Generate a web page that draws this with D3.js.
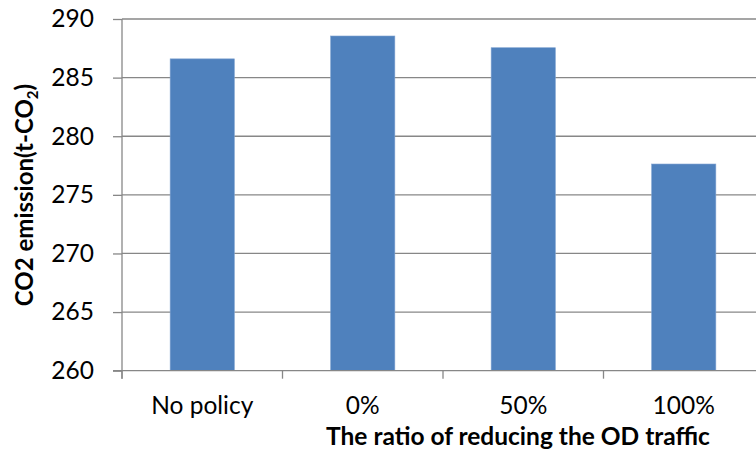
<!DOCTYPE html>
<html><head><meta charset="utf-8">
<script src="https://cdn.jsdelivr.net/npm/d3@7"></script>
<style>body{margin:0;background:#fff}svg{display:block}</style>
</head><body>
<script>
const categories = ["No policy", "0%", "50%", "100%"];
const values = [286.6, 288.55, 287.55, 277.63];
const yTicks = [260, 265, 270, 275, 280, 285, 290];

const W = 756, H = 455;
const FONT = "Lato, 'Open Sans', sans-serif";
const mLeft = 122, mRight = 764, mTop = 19, mBottom = 370.7;
const svg = d3.select("body").append("svg").attr("width", W).attr("height", H);

const x = d3.scaleBand().domain(categories).range([mLeft, mRight]).paddingInner(0.6).paddingOuter(0.3);
const y = d3.scaleLinear().domain([260, 290]).range([mBottom, mTop]);

// gridlines
svg.append("g").selectAll("line").data(yTicks.slice(1)).join("line")
  .attr("x1", mLeft).attr("x2", mRight)
  .attr("y1", d => y(d)).attr("y2", d => y(d))
  .attr("stroke", "#878787").attr("stroke-width", 1.3);

// bars
svg.append("g").selectAll("rect").data(values).join("rect")
  .attr("x", (d, i) => x(categories[i]))
  .attr("width", x.bandwidth())
  .attr("y", d => y(d))
  .attr("height", d => y(260) - y(d))
  .attr("fill", "#4F81BD").attr("stroke", "#7EA2D0").attr("stroke-width", 0.6);

// y axis
const ya = svg.append("g").attr("transform", `translate(${mLeft},0)`)
  .call(d3.axisLeft(y).tickValues(yTicks).tickSize(9).tickPadding(19));
ya.select(".domain").attr("stroke", "#878787").attr("stroke-width", 1.3).attr("d", `M0,${mTop}V${mBottom + 8}`);
ya.selectAll(".tick line").attr("stroke", "#878787").attr("stroke-width", 1.3);
ya.selectAll("text").attr("font-family", FONT).attr("font-size", 24.5).attr("fill", "#000");

// x axis
const xa = svg.append("g").attr("transform", `translate(0,${mBottom})`)
  .call(d3.axisBottom(x).tickSize(0).tickPadding(26));
xa.select(".domain").attr("stroke", "#878787").attr("stroke-width", 1.3).attr("d", `M${mLeft - 9},0H${mRight}`);
xa.selectAll("text").attr("font-family", FONT).attr("font-size", 24.5).attr("fill", "#000");
// boundary ticks
const bounds = d3.range(categories.length + 1).map(i => mLeft + i * x.step());
xa.append("g").selectAll("line").data(bounds).join("line")
  .attr("x1", d => d).attr("x2", d => d).attr("y1", 0).attr("y2", 8)
  .attr("stroke", "#878787").attr("stroke-width", 1.3);

// axis titles
svg.append("text").attr("x", 518).attr("y", 445).attr("text-anchor", "middle")
  .attr("font-family", FONT).attr("font-weight", "bold").attr("font-size", 24.5)
  .text("The ratio of reducing the OD traffic");

const yt = svg.append("text").attr("transform", "translate(33,195) rotate(-90)")
  .attr("text-anchor", "middle").attr("font-family", FONT).attr("font-weight", "bold").attr("font-size", 24);
yt.append("tspan").text("CO2 emission(t-CO");
yt.append("tspan").attr("font-size", 15).attr("dy", 5).text("2");
yt.append("tspan").attr("dy", -5).text(")");
</script>
</body></html>
